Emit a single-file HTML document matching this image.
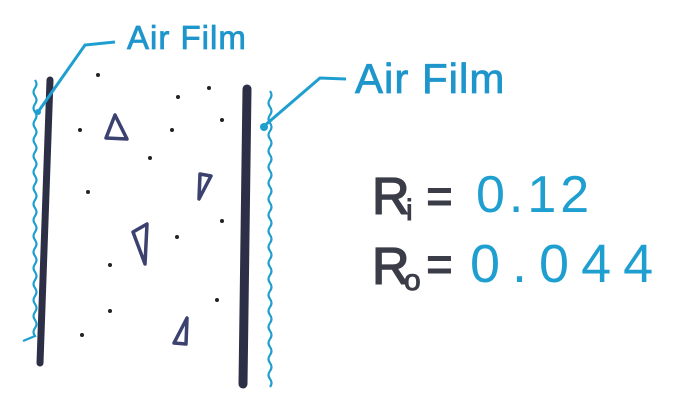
<!DOCTYPE html>
<html><head><meta charset="utf-8"><style>
html,body{margin:0;padding:0;background:#fff;}
svg{display:block}
text{font-family:"Liberation Sans",sans-serif;}
</style></head><body>
<svg width="690" height="405" viewBox="0 0 690 405" xmlns="http://www.w3.org/2000/svg">
<rect width="690" height="405" fill="#fff"/>
<!-- left wall -->
<path d="M50 80 L40 363" stroke="#2c2f45" stroke-width="7" stroke-linecap="round"/>
<!-- left air film -->
<path d="M35 80 q3 4 0 8 q-3 4 0 8 q3 4 0 8 q-3 4 0 8 q3 4 0 8 q-3 4 0 8 q3 4 0 8 q-3 4 0 8 q3 4 0 8 q-3 4 0 8 q3 4 0 8 q-3 4 0 8 q3 4 0 8 q-3 4 0 8 q3 4 0 8 q-3 4 0 8 q3 4 0 8 q-3 4 0 8 q3 4 0 8 q-3 4 0 8 q3 4 0 8 q-3 4 0 8 q3 4 0 8 q-3 4 0 8 q3 4 0 8 q-3 4 0 8 q3 4 0 8 q-3 4 0 8 q3 4 0 8 q-3 4 0 8 q3 4 0 8 q-3 4 0 8 l-12 5" fill="none" stroke="#1e9fd0" stroke-width="2.2"/>
<path d="M38 112 L85 45 L115 42" fill="none" stroke="#1e9fd0" stroke-width="3"/>
<circle cx="38" cy="112" r="3" fill="#1e9fd0"/>
<text x="127" y="49" font-size="33" fill="#1e96cc" letter-spacing="1" stroke="#1e96cc" stroke-width="0.8">Air Film</text>
<!-- right wall -->
<path d="M247 89 L243 384" stroke="#2c2f45" stroke-width="9" stroke-linecap="round"/>
<path d="M270 91 q3 4 0 8 q-3 4 0 8 q3 4 0 8 q-3 4 0 8 q3 4 0 8 q-3 4 0 8 q3 4 0 8 q-3 4 0 8 q3 4 0 8 q-3 4 0 8 q3 4 0 8 q-3 4 0 8 q3 4 0 8 q-3 4 0 8 q3 4 0 8 q-3 4 0 8 q3 4 0 8 q-3 4 0 8 q3 4 0 8 q-3 4 0 8 q3 4 0 8 q-3 4 0 8 q3 4 0 8 q-3 4 0 8 q3 4 0 8 q-3 4 0 8 q3 4 0 8 q-3 4 0 8 q3 4 0 8 q-3 4 0 8 q3 4 0 8 q-3 4 0 8 q3 4 0 8 q-3 4 0 8 q3 4 0 8 q-3 4 0 8 q3 4 0 8" fill="none" stroke="#1e9fd0" stroke-width="2.2"/>
<path d="M263 127 L320 78 L346 79" fill="none" stroke="#1e9fd0" stroke-width="3"/>
<circle cx="264" cy="127" r="4" fill="#1e9fd0"/>
<text x="355" y="93" font-size="42" fill="#1e96cc" letter-spacing="1" stroke="#1e96cc" stroke-width="0.8">Air Film</text>
<!-- dots -->
<g fill="#222">
<circle cx="98" cy="75" r="2"/><circle cx="178" cy="97" r="2"/><circle cx="209" cy="88" r="2"/>
<circle cx="80" cy="130" r="2"/><circle cx="172" cy="130" r="2"/><circle cx="222" cy="120" r="2"/>
<circle cx="150" cy="158" r="2"/><circle cx="88" cy="192" r="2"/><circle cx="222" cy="221" r="2"/>
<circle cx="177" cy="237" r="2"/><circle cx="110" cy="265" r="2"/><circle cx="110" cy="311" r="2"/>
<circle cx="217" cy="300" r="2"/><circle cx="82" cy="335" r="2"/>
</g>
<!-- triangles -->
<g fill="none" stroke="#3c4270" stroke-width="3.5" stroke-linejoin="round">
<path d="M115 115 L106 138 L127 139 Z"/>
<path d="M200 174 L211 176 L199 199 Z"/>
<path d="M133 232 L147 224 L145 264 Z"/>
<path d="M187 318 L186 344 L174 343 Z"/>
</g>
<!-- equations -->
<text x="372" y="214" font-size="52" fill="#3a3c48" stroke="#3a3c48" stroke-width="1.5">R</text>
<text x="406" y="220" font-size="30" fill="#3a3c48" stroke="#3a3c48" stroke-width="1">i</text>
<text x="426" y="212" font-size="46" fill="#3a3c48" font-weight="bold">=</text>
<text x="476" y="212" font-size="52" fill="#1e9fd0" letter-spacing="4">0.12</text>
<text x="372" y="284" font-size="52" fill="#3a3c48" stroke="#3a3c48" stroke-width="1.5">R</text>
<text x="404" y="290" font-size="30" fill="#3a3c48" stroke="#3a3c48" stroke-width="1">o</text>
<text x="426" y="280" font-size="46" fill="#3a3c48" font-weight="bold">=</text>
<text x="470" y="282" font-size="54" fill="#1e9fd0" letter-spacing="12">0.044</text>
</svg>
</body></html>
